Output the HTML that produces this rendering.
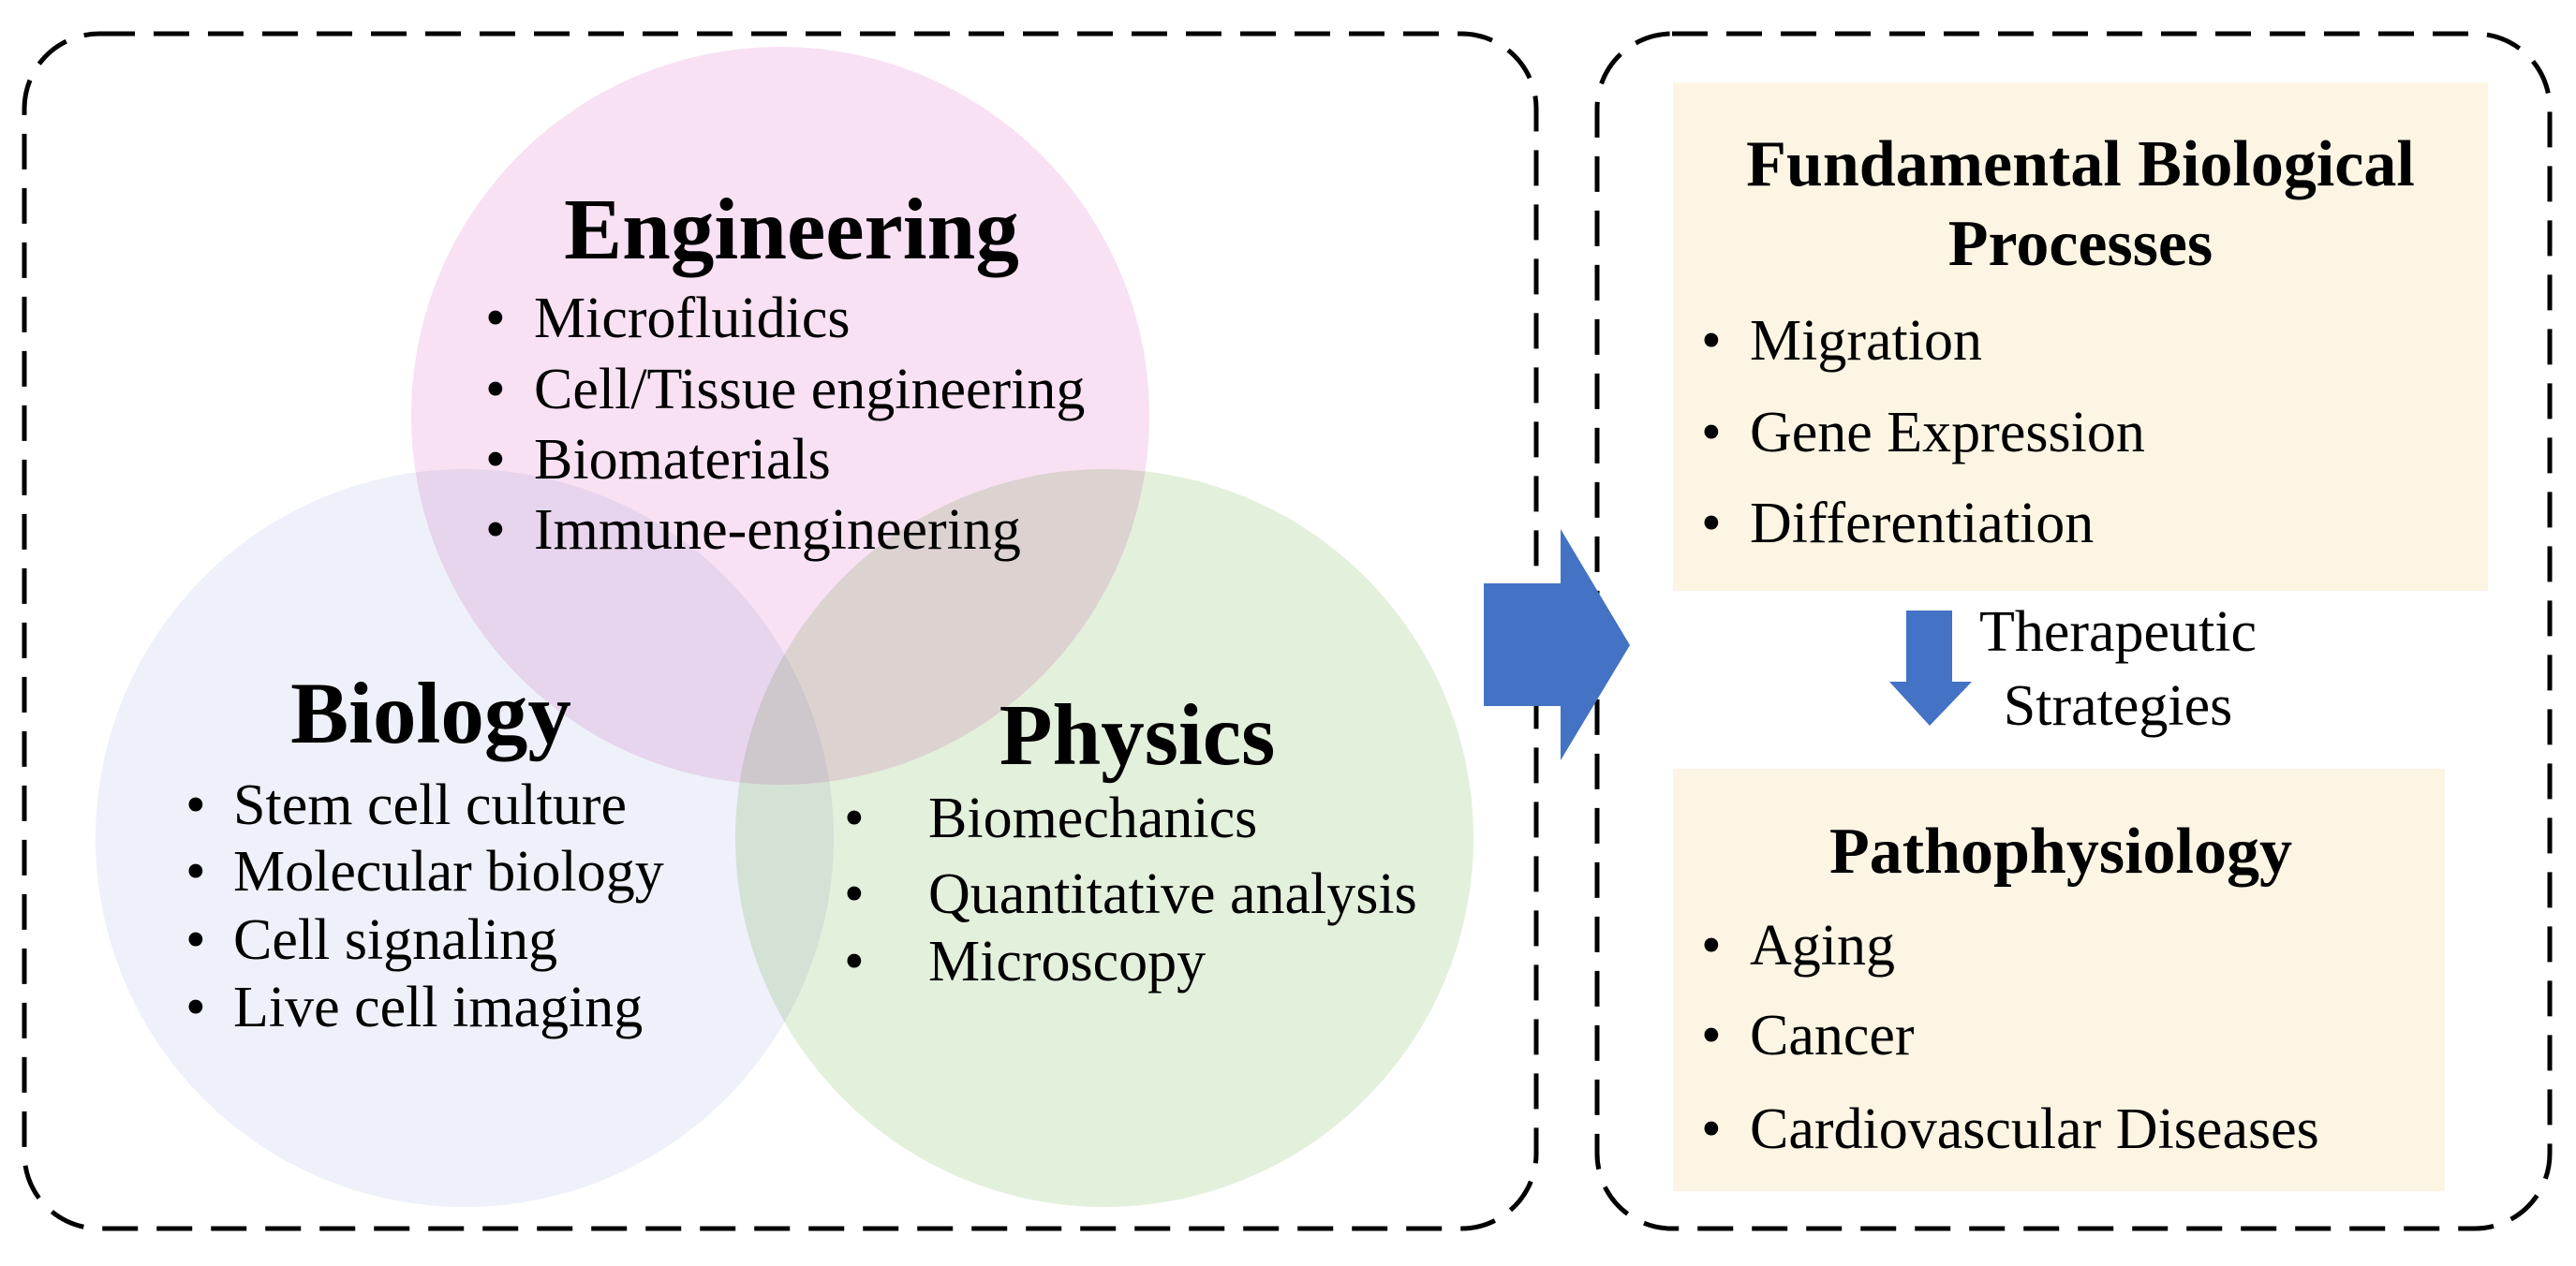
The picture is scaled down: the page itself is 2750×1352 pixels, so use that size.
<!DOCTYPE html>
<html><head><meta charset="utf-8"><style>
html,body{margin:0;padding:0;background:#fff;}
svg, svg text{font-family:"Liberation Serif","Times New Roman",serif;}
</style></head><body>
<svg width="2750" height="1347" viewBox="0 0 2750 1347" font-family="Liberation Serif, serif">
<rect x="26" y="36" width="1614" height="1276" rx="80" fill="none" stroke="#000" stroke-width="5" stroke-dasharray="38 20"/>
<rect x="1705" y="36" width="1017" height="1276" rx="80" fill="none" stroke="#000" stroke-width="5" stroke-dasharray="38 20"/>
<g style="mix-blend-mode:multiply">
<circle cx="496" cy="895" r="394" fill="#eef1f9"/>
<circle cx="1179" cy="895" r="394" fill="#e3f0dc" style="mix-blend-mode:multiply"/>
<circle cx="833" cy="444" r="394" fill="#f8e1f3" style="mix-blend-mode:multiply"/>
</g>
<g font-size="62" fill="#000" font-family="Liberation Serif, serif">
<text x="845" y="276" font-size="93" font-weight="bold" text-anchor="middle">Engineering</text>
<g>
<text x="518" y="360">•</text><text x="570" y="360">Microfluidics</text>
<text x="518" y="436">•</text><text x="570" y="436">Cell/Tissue engineering</text>
<text x="518" y="511">•</text><text x="570" y="511">Biomaterials</text>
<text x="518" y="586">•</text><text x="570" y="586">Immune-engineering</text>
</g>
<text x="460" y="793" font-size="93" font-weight="bold" text-anchor="middle">Biology</text>
<g>
<text x="198" y="880">•</text><text x="249" y="880">Stem cell culture</text>
<text x="198" y="951">•</text><text x="249" y="951">Molecular biology</text>
<text x="198" y="1024">•</text><text x="249" y="1024">Cell signaling</text>
<text x="198" y="1096">•</text><text x="249" y="1096">Live cell imaging</text>
</g>
<text x="1214" y="816" font-size="93" font-weight="bold" text-anchor="middle">Physics</text>
<g>
<text x="901" y="894">•</text><text x="991" y="894">Biomechanics</text>
<text x="901" y="975">•</text><text x="991" y="975">Quantitative analysis</text>
<text x="901" y="1047">•</text><text x="991" y="1047">Microscopy</text>
</g>
</g>
<polygon points="1584,623 1666,623 1666,565 1740,689 1666,812 1666,754 1584,754" fill="#4472c4"/>
<rect x="1786" y="88" width="870" height="543" fill="#fdf5e3"/>
<rect x="1786" y="821" width="824" height="451" fill="#fdf5e3"/>
<g font-size="62" fill="#000" font-family="Liberation Serif, serif">
<text x="2221" y="198" font-size="70" font-weight="bold" text-anchor="middle">Fundamental Biological</text>
<text x="2221" y="283" font-size="70" font-weight="bold" text-anchor="middle">Processes</text>
<g>
<text x="1816" y="384">•</text><text x="1868" y="384">Migration</text>
<text x="1816" y="482">•</text><text x="1868" y="482">Gene Expression</text>
<text x="1816" y="579">•</text><text x="1868" y="579">Differentiation</text>
</g>
<polygon points="2035,652 2084,652 2084,728 2105,728 2060,775 2017,728 2035,728" fill="#4472c4"/>
<text x="2261" y="695" text-anchor="middle">Therapeutic</text>
<text x="2261" y="774" text-anchor="middle">Strategies</text>
<text x="2200" y="932" font-size="70" font-weight="bold" text-anchor="middle">Pathophysiology</text>
<g>
<text x="1816" y="1030">•</text><text x="1868" y="1030">Aging</text>
<text x="1816" y="1126">•</text><text x="1868" y="1126">Cancer</text>
<text x="1816" y="1226">•</text><text x="1868" y="1226">Cardiovascular Diseases</text>
</g>
</g>
</svg>
</body></html>
